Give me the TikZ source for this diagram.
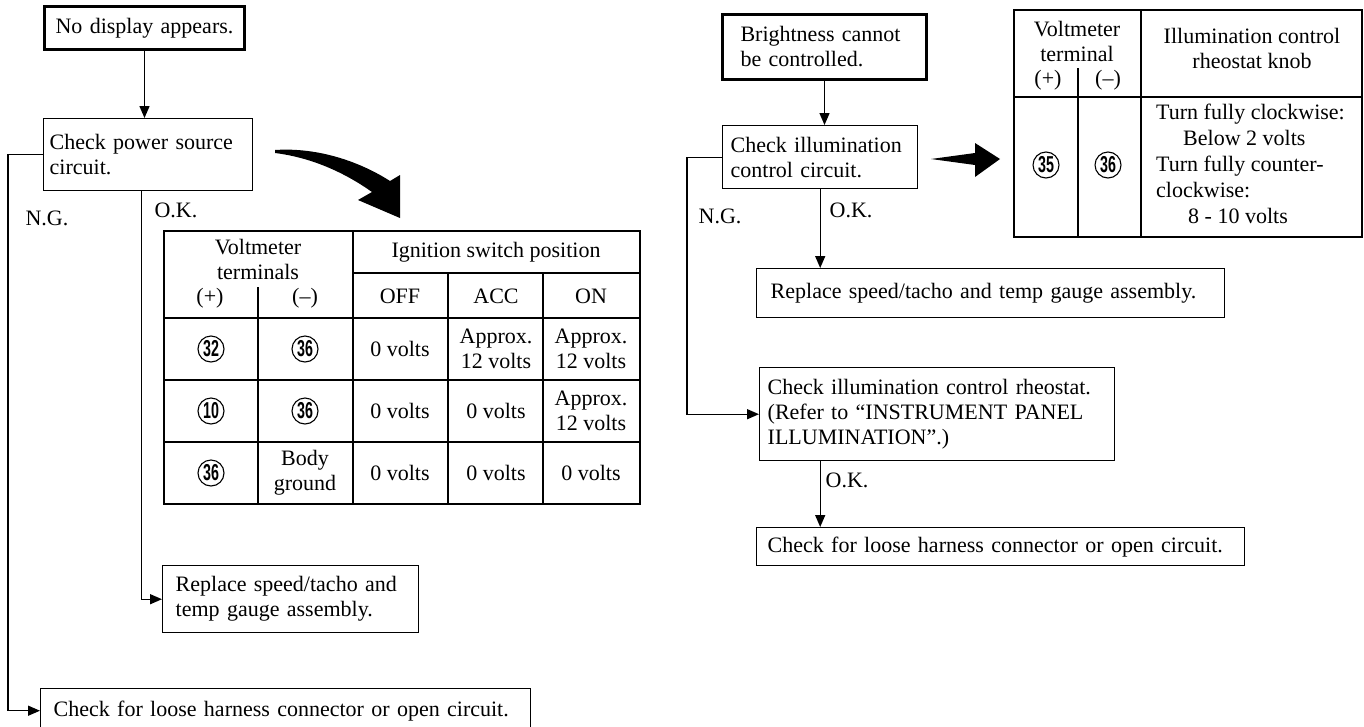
\documentclass[tikz,border=0pt]{standalone}
\usepackage{fontspec}
\usepackage{graphicx}
\setmainfont{Liberation Serif}
\setsansfont{Liberation Sans}
\usetikzlibrary{arrows.meta}
\newcommand{\cnum}[1]{\scalebox{0.62}[1]{#1}}
\begin{document}
\begin{tikzpicture}[x=1pt,y=-1pt,
  txt/.style={font=\fontsize{22}{25}\selectfont, inner sep=0pt},
  box/.style={txt, draw, line width=1.4pt, anchor=north west, align=left},
  thick box/.style={box, line width=3pt, align=center},
  arr/.style={line width=1.4pt, -{Triangle[length=12pt,width=10pt]}},
  tl/.style={line width=1.4pt},
  cell/.style={txt, align=center},
  circ/.style={circle, draw, line width=1.1pt, inner sep=0pt, minimum size=26pt,
    font=\sffamily\bfseries\fontsize{23}{23}\selectfont},
  bigarrow/.style={fill=black}
]
\useasboundingbox (0,0) rectangle (1364,726);

% ---------------- left flow ----------------
\node[thick box, minimum width=200pt, minimum height=43pt, text width=200pt] (b1) at (43,5) {No display appears.};
\node[box, minimum width=209pt, minimum height=72pt, text width=197pt, inner xsep=6pt] (b2) at (43,118) {Check power source\\circuit.};
\node[box, minimum width=256pt, minimum height=67pt, text width=230pt, inner xsep=13pt] (b3) at (162,565) {Replace speed/tacho and\\temp gauge assembly.};
\node[box, minimum width=490pt, minimum height=44pt, text width=464pt, inner xsep=13pt] (b4) at (40,688) {Check for loose harness connector or open circuit.};

\draw[arr] (b1.south) -- (b1.south |- b2.north);
\draw[arr] (b2.west) -- ++(-35,0) |- (b4.west);
\draw[arr] ([xshift=-6.5pt]b2.south) |- (b3.west);
\node[txt] (ng1) at (47,218) {N.G.};
\node[txt] (ok1) at (176,210) {O.K.};

% curved big arrow
\fill[bigarrow] (275,150) .. controls (320,147) and (362,163) .. (390,181) -- (400,175) -- (400,218) -- (358,200) -- (372,192) .. controls (348,175) and (315,158) .. (275,153) -- cycle;

% left table
\draw[tl] (164,231) rectangle (640,504);
\draw[tl] (164,318) -- (640,318);
\draw[tl] (164,380) -- (640,380);
\draw[tl] (164,442) -- (640,442);
\draw[tl] (353,273) -- (640,273);
\draw[tl] (353,231) -- (353,504);
\draw[tl] (258,287) -- (258,504);
\draw[tl] (448,273) -- (448,504);
\draw[tl] (543,273) -- (543,504);

\node[cell] (lh1) at (258,259) {Voltmeter\\terminals};
\node[cell] (lh2) at (210,298) {(+)};
\node[cell] (lh3) at (305,298) {(–)};
\node[cell] (lh4) at (496,252) {Ignition switch position};
\node[cell] (lh5) at (400,296) {OFF};
\node[cell] (lh6) at (496,296) {ACC};
\node[cell] (lh7) at (591,296) {ON};

\node[circ] (c11) at (211,349) {\cnum{32}};
\node[circ] (c12) at (305,349) {\cnum{36}};
\node[cell] (c13) at (400,349) {0 volts};
\node[cell] (c14) at (496,349) {Approx.\\12 volts};
\node[cell] (c15) at (591,349) {Approx.\\12 volts};

\node[circ] (c21) at (211,411) {\cnum{10}};
\node[circ] (c22) at (305,411) {\cnum{36}};
\node[cell] (c23) at (400,411) {0 volts};
\node[cell] (c24) at (496,411) {0 volts};
\node[cell] (c25) at (591,411) {Approx.\\12 volts};

\node[circ] (c31) at (211,473) {\cnum{36}};
\node[cell] (c32) at (305,473) {Body\\ground};
\node[cell] (c33) at (400,473) {0 volts};
\node[cell] (c34) at (496,473) {0 volts};
\node[cell] (c35) at (591,473) {0 volts};

% ---------------- right flow ----------------
\node[thick box, minimum width=204pt, minimum height=65pt, text width=168pt, inner xsep=18pt, align=left] (b5) at (721,13) {Brightness cannot\\be controlled.};
\node[box, minimum width=195pt, minimum height=63pt, text width=179pt, inner xsep=8pt] (b6) at (722,125) {Check illumination\\control circuit.};
\node[box, minimum width=468pt, minimum height=49pt, text width=440pt, inner xsep=14pt] (b7) at (756,268) {Replace speed/tacho and temp gauge assembly.};
\node[box, minimum width=355pt, minimum height=93pt, text width=339pt, inner xsep=8pt] (b8) at (759,367) {Check illumination control rheostat.\\(Refer to “INSTRUMENT PANEL\\ILLUMINATION”.)};
\node[box, minimum width=488pt, minimum height=38pt, text width=466pt, inner xsep=11pt] (b9) at (756,527) {Check for loose harness connector or open circuit.};

\draw[arr] (b5.south) -- (b5.south |- b6.north);
\draw[arr] (b6.west) -- ++(-35,0) |- (b8.west);
\draw[arr] (b6.south) -- (b6.south |- b7.north);
\draw[arr] (b8.south -| b6.south) -- (b9.north -| b6.south);
\node[txt] (ng2) at (720,216) {N.G.};
\node[txt] (ok2) at (851,210) {O.K.};
\node[txt] (ok3) at (847,480) {O.K.};

% straight big arrow
\fill[bigarrow] (931,159) -- (975,153) -- (975,143) -- (1000,159) -- (975,177) -- (975,165) -- cycle;

% right table
\draw[tl] (1014,10) rectangle (1362,237);
\draw[tl] (1014,97) -- (1362,97);
\draw[tl] (1141,10) -- (1141,237);
\draw[tl] (1078,68) -- (1078,237);

\node[cell] (rh1) at (1077,41) {Voltmeter\\terminal};
\node[cell] (rh2) at (1048,80) {(+)};
\node[cell] (rh3) at (1108,80) {(–)};
\node[cell] (rh4) at (1252,48) {Illumination control\\rheostat knob};
\node[circ] (r1) at (1046,165) {\cnum{35}};
\node[circ] (r2) at (1108,165) {\cnum{36}};
\node[txt, anchor=west, align=left, font=\fontsize{22}{26}\selectfont] (r3) at (1156,164) {Turn fully clockwise:\\\hspace*{27pt}Below 2 volts\\Turn fully counter-\\clockwise:\\\hspace*{32pt}8 - 10 volts};
\end{tikzpicture}
\end{document}
